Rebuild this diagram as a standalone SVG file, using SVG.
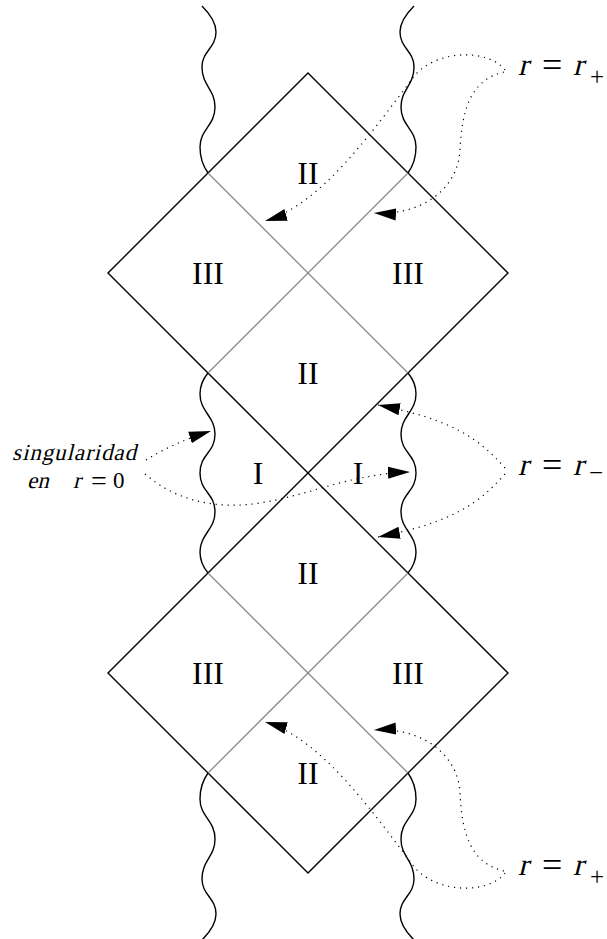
<svg xmlns="http://www.w3.org/2000/svg" xmlns:xlink="http://www.w3.org/1999/xlink" width="607" height="939" viewBox="0 0 607 939">
  <style>
    .edge { fill: none; stroke: #000; stroke-width: 1.4; stroke-linejoin: miter; }
    .horizon { fill: none; stroke: #8a8a8a; stroke-width: 1.3; }
    .sing { fill: none; stroke: #000; stroke-width: 1.4; }
    .dots { fill: none; stroke: #000; stroke-width: 1.2; stroke-dasharray: 1.2 4.8; marker-end: url(#tip); }
    text { font-family: "Liberation Serif", "Times New Roman", serif; fill: #000; }
    .roman { font-size: 32px; text-anchor: middle; }
    .math { font-size: 31px; }
    .rel { font-size: 36px; }
    .sub { font-size: 25px; }
    .small { font-size: 23px; }
    .small-rel { font-size: 28px; }
  </style>
  <defs>
    <marker id="tip" markerUnits="userSpaceOnUse" markerWidth="22" markerHeight="14" viewBox="0 0 20 12" refX="20" refY="6" orient="auto">
      <path d="M0,0.5 L20,6 L0,11.5 Z" fill="#000"/>
    </marker>
    <!-- wavy singularity segments, drawn on the left side -->
    <path id="wigTop" class="sing" d="M202,6 C210,14 216,22 216,32 C216,48 202,51 202,67 C202,86 215,89 215,107 C215,126 200,129 200,147 C200,158 203,166 208,173"/>
    <path id="wigMid" class="sing" d="M208,373 C203,379 200,386 200,394 C200,412 215,416 215,434 C215,453 200,454 200,473 C200,492 215,493 215,512 C215,530 200,534 200,552 C200,560 203,567 208,573"/>
    <!-- pair of dotted pointers from the outer horizon label -->
    <g id="plusPointers">
      <path class="dots" d="M505,70 C490,50 440,48 415,75 C370,135 320,205 265,221"/>
      <path class="dots" d="M504,72 C470,80 462,110 460,150 C458,190 420,216 374,213"/>
    </g>
    <!-- slanted math "r" with its origin on the baseline -->
    <text id="rvar" class="math" x="0" y="0" transform="skewX(-14)">r</text>
  </defs>

  <!-- diamond outline and the two long null lines -->
  <g id="frame">
    <path class="edge" d="M108,273 L308,73 L508,273 L108,673 L308,873 L508,673 Z"/>
    <path class="horizon" d="M208,173 L408,373 M408,173 L208,373 M208,573 L408,773 M408,573 L208,773"/>
  </g>

  <!-- r = 0 singularities -->
  <g id="singularities">
    <use xlink:href="#wigTop"/>
    <use xlink:href="#wigTop" transform="matrix(-1,0,0,1,616,0)"/>
    <use xlink:href="#wigMid"/>
    <use xlink:href="#wigMid" transform="matrix(-1,0,0,1,616,0)"/>
    <use xlink:href="#wigTop" transform="matrix(1,0,0,-1,0,946)"/>
    <use xlink:href="#wigTop" transform="matrix(-1,0,0,-1,616,946)"/>
  </g>

  <!-- region labels -->
  <g id="region-II-top"><text class="roman" x="308" y="184">II</text></g>
  <g id="region-III-upper-left"><text class="roman" x="208" y="284">III</text></g>
  <g id="region-III-upper-right"><text class="roman" x="408" y="284">III</text></g>
  <g id="region-II-upper-mid"><text class="roman" x="308" y="384">II</text></g>
  <g id="region-I-left"><text class="roman" x="258" y="484">I</text></g>
  <g id="region-I-right"><text class="roman" x="358" y="484">I</text></g>
  <g id="region-II-lower-mid"><text class="roman" x="308" y="584">II</text></g>
  <g id="region-III-lower-left"><text class="roman" x="208" y="684">III</text></g>
  <g id="region-III-lower-right"><text class="roman" x="408" y="684">III</text></g>
  <g id="region-II-bottom"><text class="roman" x="308" y="784">II</text></g>

  <!-- annotation labels -->
  <g id="label-rplus-top">
    <use xlink:href="#rvar" x="518" y="75"/>
    <text class="rel" x="542" y="77">=</text>
    <use xlink:href="#rvar" x="573" y="75"/>
    <text class="sub" x="590" y="85">+</text>
  </g>
  <g id="label-rminus">
    <use xlink:href="#rvar" x="518" y="475"/>
    <text class="rel" x="542" y="477">=</text>
    <use xlink:href="#rvar" x="573" y="475"/>
    <text class="sub" x="589" y="481">−</text>
  </g>
  <g id="label-rplus-bottom">
    <use xlink:href="#rvar" x="518" y="875"/>
    <text class="rel" x="542" y="877">=</text>
    <use xlink:href="#rvar" x="573" y="875"/>
    <text class="sub" x="590" y="885">+</text>
  </g>
  <g id="label-singularity">
    <g transform="translate(12,460) skewX(-14)">
      <text class="small" x="0" y="0" textLength="124" lengthAdjust="spacing">singularidad</text>
    </g>
    <g transform="translate(27,488) skewX(-14)">
      <text class="small" x="0" y="0">en</text>
    </g>
    <g transform="translate(73,488) skewX(-14)">
      <text class="small" x="0" y="0">r</text>
    </g>
    <text class="small-rel" x="91" y="490">=</text>
    <text class="small" x="113" y="488">0</text>
  </g>

  <!-- dotted pointers -->
  <g id="connectors">
    <use xlink:href="#plusPointers"/>
    <use xlink:href="#plusPointers" transform="matrix(1,0,0,-1,0,943)"/>
    <path class="dots" d="M505,468 C480,440 455,420 378,405"/>
    <path class="dots" d="M505,474 C480,502 455,522 378,537"/>
    <path class="dots" d="M146,460 Q175,442 211,431"/>
    <path class="dots" d="M145,474 C175,500 215,510 260,503 C310,495 350,474 410,472"/>
  </g>
</svg>
